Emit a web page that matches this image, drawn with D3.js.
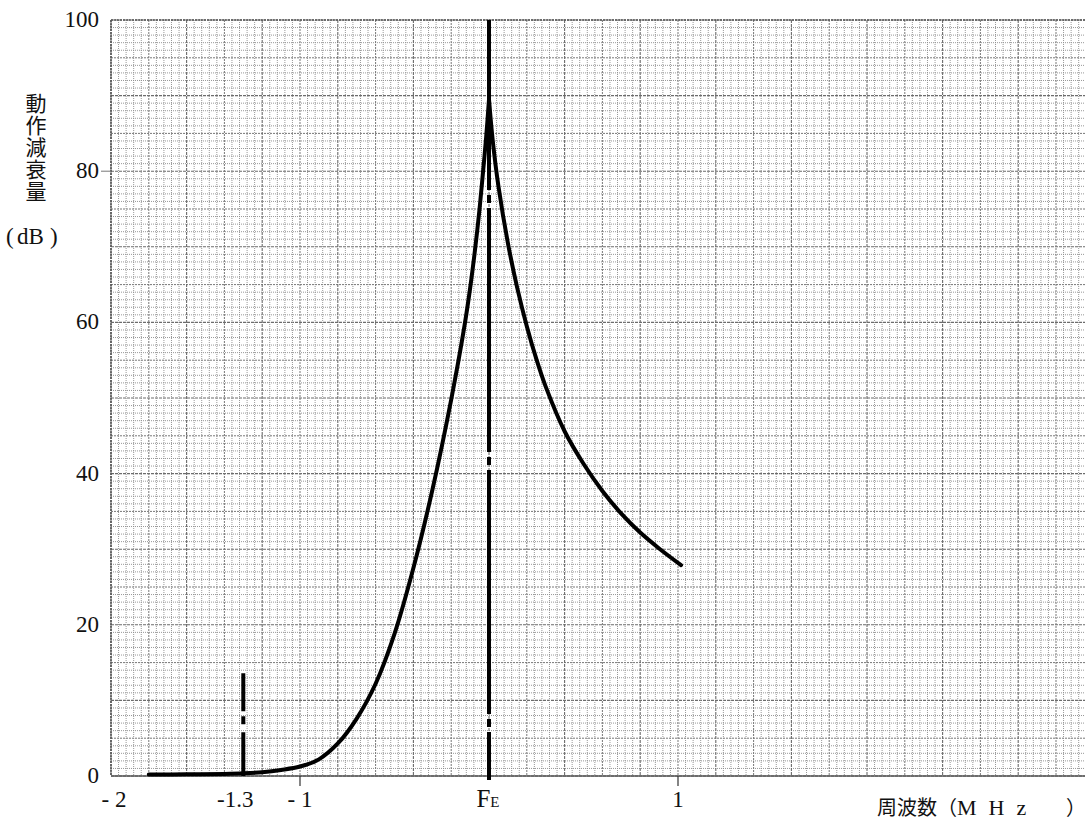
<!DOCTYPE html>
<html>
<head>
<meta charset="utf-8">
<script src="https://cdn.jsdelivr.net/npm/d3@7"></script>
<style>
  html, body { margin: 0; padding: 0; background: #fff; }
  svg { display: block; }
</style>
</head>
<body>
<svg id="chart" width="1085" height="825"></svg>
<script>
// ---- data ----
const leftFreq  = [-1.80, -1.60, -1.40, -1.30, -1.20, -1.10, -1.00, -0.90, -0.80, -0.70, -0.60, -0.50, -0.40, -0.30, -0.20, -0.13, -0.10, -0.074, -0.05, -0.032, -0.015, 0.0];
const leftAtt   = [ 0.2,   0.22,  0.28,  0.35,  0.5,   0.8,   1.25,  2.2,   4.3,   7.6,  12.2,  18.8,  27.5,  37.8,  49.8,  59.5,  64.5,  69.6,   75.0,  79.8,   84.5,  89.5];
const rightFreq = [0.0, 0.02, 0.05, 0.10, 0.15, 0.20, 0.25, 0.30, 0.40, 0.50, 0.60, 0.70, 0.80, 0.90, 1.016];
const rightAtt  = [89.5, 84.0, 78.0, 70.5, 64.5, 59.5, 55.2, 51.5, 45.6, 41.3, 37.7, 34.7, 32.2, 30.1, 27.9];

const yTickValues = [0, 20, 40, 60, 80, 100];
const yTickLabels = ["0", "20", "40", "60", "80", "100"];
const xTickValues = [-2, -1.3, -1, 0, 1];
const xTickLabels = ["- 2", "-1.3", "- 1", "FE", "1"];

const feFreq = 0;         // F_E reference line
const fLFreq = -1.3;      // -1.3 MHz marker
const fLTop  = 13.6;      // height of the -1.3 marker (dB)

const yTitle = "動作減衰量";
const yUnit = "dB";
const xTitle = "周波数";
const xUnit = "MHz";

// ---- scales ----
const x = d3.scaleLinear().domain([-2, 3.15]).range([111, 1084.35]);
const y = d3.scaleLinear().domain([0, 100]).range([776, 20]);

const svg = d3.select("#chart");
const numFont = "'Liberation Serif', 'DejaVu Serif', serif";
const cjkFont = "'Noto Sans CJK JP', sans-serif";

// ---- grid paper ----
const grid = svg.append("g");
const gridColor = k => k % 10 === 0 ? "#6c6c6c" : k % 5 === 0 ? "#787878" : "#8c8c8c";
const gridWidth = k => k % 10 === 0 ? 1.1 : k % 5 === 0 ? 1 : 0.9;
const gridDash = k => k % 10 === 0 ? "3,1" : k % 5 === 0 ? "2,1" : "1,1";

grid.selectAll("line.h").data(d3.range(0, 101, 1)).join("line")
  .attr("x1", x(-2)).attr("x2", 1085)
  .attr("y1", d => y(d)).attr("y2", d => y(d))
  .attr("stroke", gridColor).attr("stroke-width", gridWidth)
  .attr("stroke-dasharray", gridDash);

grid.selectAll("line.v").data(d3.range(0, 130)).join("line")
  .attr("x1", k => x(-2 + k * 0.04)).attr("x2", k => x(-2 + k * 0.04))
  .attr("y1", y(100)).attr("y2", y(0))
  .attr("stroke", gridColor).attr("stroke-width", gridWidth)
  .attr("stroke-dasharray", gridDash);

// borders
svg.append("line").attr("x1", x(-2)).attr("x2", 1085).attr("y1", y(0)).attr("y2", y(0))
  .attr("stroke", "#555").attr("stroke-width", 1.6);
svg.append("line").attr("x1", x(-2)).attr("x2", 1085).attr("y1", y(100)).attr("y2", y(100))
  .attr("stroke", "#555").attr("stroke-width", 1.6).attr("stroke-dasharray", "2,1");
svg.append("line").attr("x1", x(-2)).attr("x2", x(-2)).attr("y1", y(100)).attr("y2", y(0))
  .attr("stroke", "#555").attr("stroke-width", 1.6).attr("stroke-dasharray", "2,1");

// ---- ticks ----
svg.selectAll("line.xt").data([-1, 1]).join("line")
  .attr("x1", d => x(d)).attr("x2", d => x(d))
  .attr("y1", y(0)).attr("y2", y(0) + 10)
  .attr("stroke", "#333").attr("stroke-width", 1.2);
svg.selectAll("line.yt").data([80]).join("line")
  .attr("x1", x(-2) - 10).attr("x2", x(-2))
  .attr("y1", d => y(d)).attr("y2", d => y(d))
  .attr("stroke", "#777").attr("stroke-width", 1);

// ---- tick labels ----
svg.selectAll("text.yl").data(yTickValues).join("text")
  .attr("x", 99).attr("y", d => y(d) + 7)
  .attr("text-anchor", "end")
  .attr("font-family", numFont).attr("font-size", 23).attr("fill", "#111")
  .text((d, i) => yTickLabels[i]);

const xl = svg.selectAll("text.xl").data(xTickValues).join("text")
  .attr("y", 807)
  .attr("text-anchor", "middle")
  .attr("font-family", numFont).attr("font-size", 23).attr("fill", "#111");
xl.each(function(d, i) {
  const t = d3.select(this);
  const lab = xTickLabels[i];
  if (lab === "FE") {
    t.attr("x", x(d) - 1);
    t.append("tspan").text("F").attr("font-size", 25);
    t.append("tspan").text("E").attr("font-size", 15).attr("dy", 0);
  } else if (lab === "-1.3") {
    t.attr("x", x(d) - 8).text(lab);
  } else if (lab === "- 2") {
    t.attr("x", x(d) + 3).text(lab);
  } else {
    t.attr("x", x(d)).text(lab);
  }
});

// partially visible letter below the -1.3 marker
svg.append("text").attr("x", x(fLFreq) - 2).attr("y", 840)
  .attr("text-anchor", "middle").attr("font-family", numFont).attr("font-size", 24)
  .attr("fill", "#111").text("F");

// ---- axis titles ----
svg.append("text")
  .attr("x", 36).attr("y", 93)
  .attr("writing-mode", "vertical-rl")
  .attr("font-family", cjkFont).attr("font-size", 21).attr("letter-spacing", 1)
  .attr("fill", "#111")
  .text(yTitle);

const yu = svg.append("text").attr("y", 244)
  .attr("font-family", numFont).attr("font-size", 23).attr("fill", "#111");
yu.append("tspan").attr("x", 6).text("(");
yu.append("tspan").attr("x", 17).text(yUnit);
yu.append("tspan").attr("x", 50).text(")");

const xt = svg.append("text").attr("x", 877).attr("y", 815)
  .attr("font-family", cjkFont).attr("font-size", 20).attr("fill", "#111");
xt.append("tspan").text(xTitle + "（");
xt.append("tspan").attr("x", 957).attr("font-family", numFont).attr("font-size", 22)
  .attr("letter-spacing", 12).text(xUnit);
xt.append("tspan").attr("x", 1066).text("）");

// ---- marker lines ----
svg.append("line")
  .attr("x1", x(feFreq)).attr("x2", x(feFreq))
  .attr("y1", y(100)).attr("y2", y(0) + 4)
  .attr("stroke", "#000").attr("stroke-width", 4)
  .attr("stroke-dasharray", "244,5,8,5").attr("stroke-dashoffset", 74);

svg.append("line")
  .attr("x1", x(fLFreq)).attr("x2", x(fLFreq))
  .attr("y1", y(fLTop)).attr("y2", y(0))
  .attr("stroke", "#000").attr("stroke-width", 4)
  .attr("stroke-dasharray", "38,5,8,8,60");

// ---- response curve ----
const line = d3.line().x(d => x(d[0])).y(d => y(d[1])).curve(d3.curveCatmullRom.alpha(0.5));
const leftPts = leftFreq.map((f, i) => [f, leftAtt[i]]);
const rightPts = rightFreq.map((f, i) => [f, rightAtt[i]]);
[leftPts, rightPts].forEach(pts => {
  svg.append("path").datum(pts).attr("d", line)
    .attr("fill", "none").attr("stroke", "#000").attr("stroke-width", 4)
    .attr("stroke-linecap", "round").attr("stroke-linejoin", "round");
});
</script>
</body>
</html>
